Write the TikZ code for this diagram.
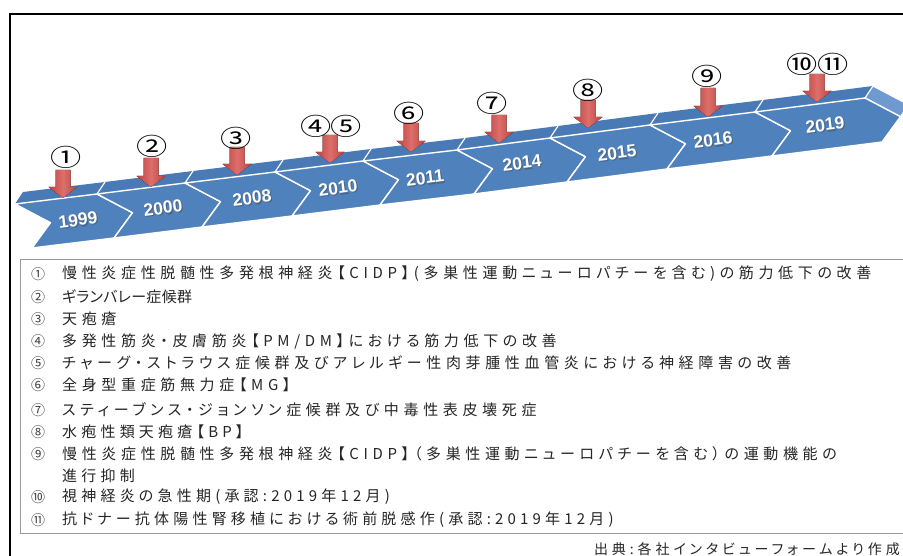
\documentclass[tikz,border=0pt]{standalone}
\usepackage{fontspec}
\newfontfamily\jp[LetterSpace=28,RawFeature=+palt]{Noto Sans CJK JP}
\newfontfamily\jpw[LetterSpace=31,RawFeature=+palt]{Noto Sans CJK JP}
\newfontfamily\jpn[LetterSpace=2,RawFeature=+palt]{Noto Sans CJK JP}
\newfontfamily\jpc{Noto Sans CJK JP}
\newfontfamily\yrfont{Liberation Sans}
\definecolor{bandfront}{HTML}{4F81BD}
\definecolor{bandtop}{HTML}{4A7AB6}
\definecolor{bandside}{HTML}{6F9AD0}
\definecolor{arrdark}{HTML}{B8413E}
\definecolor{arrlight}{HTML}{DE6F6B}
\newcommand{\tlarrow}[3]{%
  \fill[left color=arrdark,right color=arrdark,middle color=arrlight]
    (#1-7.5,#2) -- (#1+7.5,#2) -- (#1+7.5,#3-11) -- (#1+14.5,#3-11) -- (#1,#3)
    -- (#1-14.5,#3-11) -- (#1-7.5,#3-11) -- cycle;}
\tikzset{
  yearlbl/.style={font=\yrfont\bfseries\fontsize{17.5}{17.5}\selectfont, text=white, rotate=7, inner sep=0pt},
  yearshadow/.style={font=\yrfont\bfseries\fontsize{17.5}{17.5}\selectfont, text=black!70, opacity=0.5, rotate=7, inner sep=0pt},
  circnum/.style={font=\jpc\fontsize{24}{24}\selectfont, xscale=1.3, inner sep=0pt},
  legnum/.style={font=\jpc\fontsize{14}{14}\selectfont, text=black!75, anchor=center, inner sep=0pt},
  legtxt/.style={font=\jp\fontsize{15}{15}\selectfont, text=black!85, anchor=west, inner sep=0pt},
  legtxtw/.style={legtxt, font=\jpw\fontsize{15}{15}\selectfont},
  legtxtn/.style={legtxt, font=\jpn\fontsize{15}{15}\selectfont},
  frontface/.style={fill=bandfront, draw=white, line width=1.4pt, line join=round},
}
\begin{document}
\begin{tikzpicture}[x=1pt,y=-1pt]
\useasboundingbox (0,0) rectangle (903,556);
\clip (0,0) rectangle (903,556);
\fill[white] (0,0) rectangle (903,556);
% outer frame
\draw[black, line width=1.6pt] (10,14) rectangle (930,580);
% top face of the band
\fill[bandtop] (15,204) -- (97,194) -- (185,183) -- (275,172) -- (363,161) -- (457,150) -- (550,138) -- (650,125) -- (755,112) -- (865,98)
  -- (873,86) -- (763,100) -- (658,113) -- (558,126) -- (465,138) -- (371,149) -- (283,160) -- (193,171) -- (105,182) -- (23,192) -- cycle;
% end tip side
\fill[bandside, draw=white, line width=1.2pt] (865,98) -- (873,86) -- (908.5,104.7) -- (900.5,116.7) -- cycle;
% front faces
\foreach \xa/\ya/\xb/\yb in {15/204/97/194, 97/194/185/183, 185/183/275/172, 275/172/363/161, 363/161/457/150, 457/150/550/138, 550/138/650/125, 650/125/755/112, 755/112/865/98}{
  \draw[frontface] (\xa,\ya) -- (\xb,\yb) -- (\xb+35.5,\yb+18.7) -- (\xb+17,\yb+44) -- (\xa+17,\ya+44) -- (\xa+35.5,\ya+18.7) -- cycle;
}
% top face segment separators
\foreach \xb/\yb in {97/194, 185/183, 275/172, 363/161, 457/150, 550/138, 650/125, 755/112}{
  \draw[white, line width=1.2pt] (\xb,\yb) -- (\xb+8,\yb-12);
}
% years
\foreach \nm/\x/\y/\t in {y1999/78/220/1999, y2000/163/208/2000, y2008/252/198/2008, y2010/338/188/2010, y2011/425/178/2011, y2014/522/163/2014, y2015/617/153/2015, y2016/713/140/2016, y2019/825/125/2019}{
  \node[yearshadow] (s\nm) at (\x+1.2,\y+1.2) {\t};
  \node[yearlbl] (\nm) at (\x,\y) {\t};
}
% red arrows
\tlarrow{63}{170}{198}
\tlarrow{151}{158}{187}
\tlarrow{237}{147}{175}
\tlarrow{330}{135}{163}
\tlarrow{411}{123}{152}
\tlarrow{499}{115}{143}
\tlarrow{588}{100}{128}
\tlarrow{708}{88}{117}
\tlarrow{817}{74}{102}
% circled numbers
\node[circnum] (c1) at (66,157) {①};
\node[circnum] (c2) at (152,146) {②};
\node[circnum] (c3) at (236,138) {③};
\node[circnum] (c4) at (316,126) {④};
\node[circnum] (c5) at (346,126) {⑤};
\node[circnum] (c6) at (409,113) {⑥};
\node[circnum] (c7) at (492,103) {⑦};
\node[circnum] (c8) at (588,90) {⑧};
\node[circnum] (c9) at (707,76) {⑨};
\node[circnum] (c10) at (802,64) {⑩};
\node[circnum] (c11) at (833,64) {⑪};
% legend box
\draw[black!40, line width=1pt] (20,260) rectangle (930,533);
\node[legnum] (n1) at (38,274) {①};
\node[legtxtw] (t1) at (62,274) {慢性炎症性脱髄性多発根神経炎【CIDP】(多巣性運動ニューロパチーを含む)の筋力低下の改善};
\node[legnum] (n2) at (38,297) {②};
\node[legtxtn] (t2) at (62,297) {ギランバレー症候群};
\node[legnum] (n3) at (38,319) {③};
\node[legtxtw] (t3) at (62,319) {天疱瘡};
\node[legnum] (n4) at (38,341) {④};
\node[legtxtw] (t4) at (62,341) {多発性筋炎・皮膚筋炎【PM/DM】における筋力低下の改善};
\node[legnum] (n5) at (38,363) {⑤};
\node[legtxtw] (t5) at (62,363) {チャーグ・ストラウス症候群及びアレルギー性肉芽腫性血管炎における神経障害の改善};
\node[legnum] (n6) at (38,385) {⑥};
\node[legtxtw] (t6) at (62,385) {全身型重症筋無力症【MG】};
\node[legnum] (n7) at (38,410) {⑦};
\node[legtxtw] (t7) at (62,410) {スティーブンス・ジョンソン症候群及び中毒性表皮壊死症};
\node[legnum] (n8) at (38,432) {⑧};
\node[legtxt] (t8) at (62,432) {水疱性類天疱瘡【BP】};
\node[legnum] (n9) at (38,454) {⑨};
\node[legtxtw] (t9) at (62,454) {慢性炎症性脱髄性多発根神経炎【CIDP】（多巣性運動ニューロパチーを含む）の運動機能の};
\node[legtxt] (t9b) at (62,476) {進行抑制};
\node[legnum] (n10) at (38,497) {⑩};
\node[legtxt] (t10) at (62,497) {視神経炎の急性期(承認:2019年12月)};
\node[legnum] (n11) at (38,520) {⑪};
\node[legtxt] (t11) at (62,520) {抗ドナー抗体陽性腎移植における術前脱感作(承認:2019年12月)};
% source
\node[font=\jp\fontsize{14}{14}\selectfont, text=black!85, anchor=east, inner sep=0pt] (src) at (900,549) {出典:各社インタビューフォームより作成};
\end{tikzpicture}
\end{document}
